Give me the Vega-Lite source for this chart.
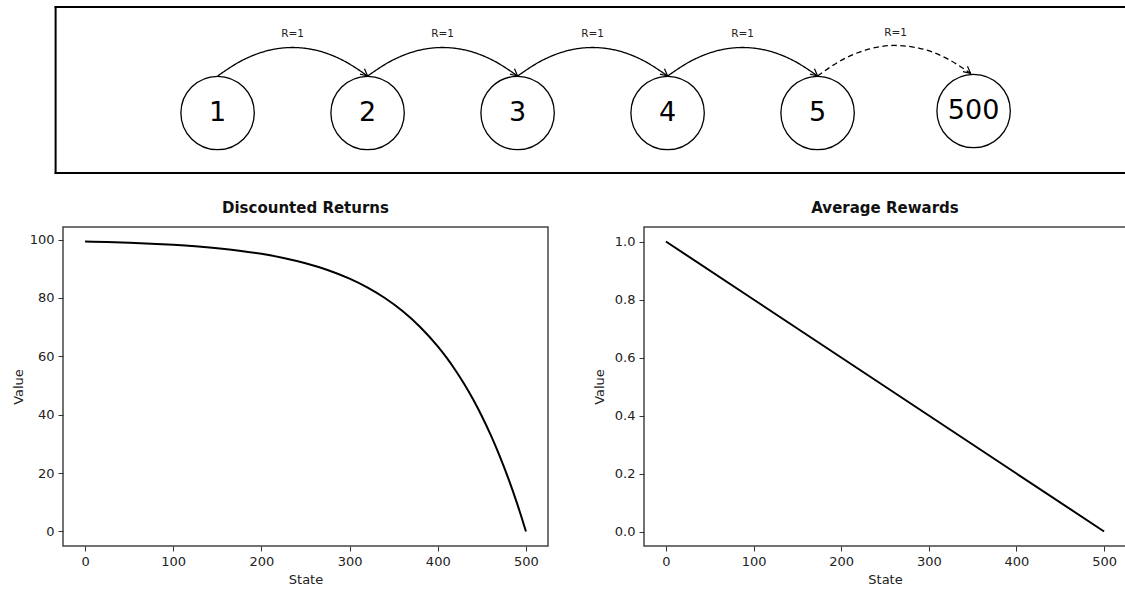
{
  "$schema": "https://vega.github.io/schema/vega-lite/v6.json",
  "padding": {"left": 11, "top": 0, "right": 0, "bottom": 0},
  "spacing": 25,
  "datasets": {
    "frame": [
      {"x": -0.08, "x2": 7.049, "y": 2.865, "y2": 2.865},
      {"x": -0.08, "x2": 7.049, "y": -1.622, "y2": -1.622},
      {"x": -0.08, "x2": -0.08, "y": -1.622, "y2": 2.865}
    ],
    "arcs": [
      {"arc": 1, "p": 0, "x": 1.0, "y": 1.0, "style": "solid"},
      {"arc": 1, "p": 1, "x": 1.167, "y": 1.428, "style": "solid"},
      {"arc": 1, "p": 2, "x": 1.333, "y": 1.685, "style": "solid"},
      {"arc": 1, "p": 3, "x": 1.5, "y": 1.77, "style": "solid"},
      {"arc": 1, "p": 4, "x": 1.667, "y": 1.685, "style": "solid"},
      {"arc": 1, "p": 5, "x": 1.833, "y": 1.428, "style": "solid"},
      {"arc": 1, "p": 6, "x": 2.0, "y": 1.0, "style": "solid"},
      {"arc": 2, "p": 0, "x": 2.0, "y": 1.0, "style": "solid"},
      {"arc": 2, "p": 1, "x": 2.167, "y": 1.428, "style": "solid"},
      {"arc": 2, "p": 2, "x": 2.333, "y": 1.685, "style": "solid"},
      {"arc": 2, "p": 3, "x": 2.5, "y": 1.77, "style": "solid"},
      {"arc": 2, "p": 4, "x": 2.667, "y": 1.685, "style": "solid"},
      {"arc": 2, "p": 5, "x": 2.833, "y": 1.428, "style": "solid"},
      {"arc": 2, "p": 6, "x": 3.0, "y": 1.0, "style": "solid"},
      {"arc": 3, "p": 0, "x": 3.0, "y": 1.0, "style": "solid"},
      {"arc": 3, "p": 1, "x": 3.167, "y": 1.428, "style": "solid"},
      {"arc": 3, "p": 2, "x": 3.333, "y": 1.685, "style": "solid"},
      {"arc": 3, "p": 3, "x": 3.5, "y": 1.77, "style": "solid"},
      {"arc": 3, "p": 4, "x": 3.667, "y": 1.685, "style": "solid"},
      {"arc": 3, "p": 5, "x": 3.833, "y": 1.428, "style": "solid"},
      {"arc": 3, "p": 6, "x": 4.0, "y": 1.0, "style": "solid"},
      {"arc": 4, "p": 0, "x": 4.0, "y": 1.0, "style": "solid"},
      {"arc": 4, "p": 1, "x": 4.167, "y": 1.428, "style": "solid"},
      {"arc": 4, "p": 2, "x": 4.333, "y": 1.685, "style": "solid"},
      {"arc": 4, "p": 3, "x": 4.5, "y": 1.77, "style": "solid"},
      {"arc": 4, "p": 4, "x": 4.667, "y": 1.685, "style": "solid"},
      {"arc": 4, "p": 5, "x": 4.833, "y": 1.428, "style": "solid"},
      {"arc": 4, "p": 6, "x": 5.0, "y": 1.0, "style": "solid"},
      {"arc": 5, "p": 0, "x": 5.0, "y": 1.0, "style": "dashed"},
      {"arc": 5, "p": 1, "x": 5.17, "y": 1.451, "style": "dashed"},
      {"arc": 5, "p": 2, "x": 5.34, "y": 1.725, "style": "dashed"},
      {"arc": 5, "p": 3, "x": 5.51, "y": 1.825, "style": "dashed"},
      {"arc": 5, "p": 4, "x": 5.68, "y": 1.749, "style": "dashed"},
      {"arc": 5, "p": 5, "x": 5.85, "y": 1.497, "style": "dashed"},
      {"arc": 5, "p": 6, "x": 6.02, "y": 1.07, "style": "dashed"}
    ],
    "nodes": [
      {"x": 1, "y": 0, "label": "1"},
      {"x": 2, "y": 0, "label": "2"},
      {"x": 3, "y": 0, "label": "3"},
      {"x": 4, "y": 0, "label": "4"},
      {"x": 5, "y": 0, "label": "5"},
      {"x": 6.04, "y": 0.054, "label": "500"}
    ],
    "rewards": [
      {"x": 1.5, "y": 2.14, "label": "R=1"},
      {"x": 2.5, "y": 2.14, "label": "R=1"},
      {"x": 3.5, "y": 2.14, "label": "R=1"},
      {"x": 4.5, "y": 2.14, "label": "R=1"},
      {"x": 5.52, "y": 2.15, "label": "R=1"}
    ],
    "discounted": [
      {"state": 0, "value": 99.34}, {"state": 25, "value": 99.15}, {"state": 50, "value": 98.91},
      {"state": 75, "value": 98.6}, {"state": 100, "value": 98.2}, {"state": 125, "value": 97.69},
      {"state": 150, "value": 97.03}, {"state": 175, "value": 96.19}, {"state": 200, "value": 95.1},
      {"state": 225, "value": 93.69}, {"state": 250, "value": 91.89}, {"state": 275, "value": 89.58},
      {"state": 300, "value": 86.6}, {"state": 320, "value": 83.62}, {"state": 340, "value": 79.97},
      {"state": 360, "value": 75.51}, {"state": 380, "value": 70.06}, {"state": 400, "value": 63.4},
      {"state": 410, "value": 59.53}, {"state": 420, "value": 55.25}, {"state": 430, "value": 50.52},
      {"state": 440, "value": 45.28}, {"state": 450, "value": 39.5}, {"state": 460, "value": 33.1},
      {"state": 470, "value": 26.03}, {"state": 480, "value": 18.21}, {"state": 490, "value": 9.56},
      {"state": 495, "value": 4.9}, {"state": 500, "value": 0}
    ],
    "average": [
      {"state": 0, "value": 1.0}, {"state": 100, "value": 0.8}, {"state": 200, "value": 0.6},
      {"state": 300, "value": 0.4}, {"state": 400, "value": 0.2}, {"state": 500, "value": 0.0}
    ]
  },
  "vconcat": [
    {
      "width": 1063,
      "height": 175,
      "view": {"stroke": null},
      "encoding": {
        "x": {"field": "x", "type": "quantitative", "scale": {"domain": [-0.0307, 7.056], "nice": false, "zero": false}, "axis": null},
        "y": {"field": "y", "type": "quantitative", "scale": {"domain": [-1.676, 3.054], "nice": false, "zero": false}, "axis": null}
      },
      "layer": [
        {
          "data": {"name": "frame"},
          "mark": {"type": "rule", "color": "black", "strokeWidth": 2, "strokeCap": "square"},
          "encoding": {"x2": {"field": "x2"}, "y2": {"field": "y2"}}
        },
        {
          "data": {"name": "arcs"},
          "mark": {"type": "line", "color": "black", "strokeWidth": 1.3, "interpolate": "monotone"},
          "encoding": {
            "detail": {"field": "arc", "type": "nominal"},
            "strokeDash": {"field": "style", "type": "nominal", "scale": {"domain": ["solid", "dashed"], "range": [[1, 0], [5.5, 3.5]]}, "legend": null}
          }
        },
        {
          "data": {"name": "arcs"},
          "transform": [{"filter": "datum.p == 6"}],
          "mark": {"type": "point", "shape": "M-1,-0.5L0,0L-1,0.5", "size": 196, "filled": false, "color": "black", "strokeWidth": 1.2, "angle": 40, "opacity": 1}
        },
        {
          "data": {"name": "nodes"},
          "mark": {"type": "point", "shape": "circle", "size": 5388, "filled": false, "color": "black", "strokeWidth": 1.3, "opacity": 1}
        },
        {
          "data": {"name": "nodes"},
          "mark": {"type": "text", "fontSize": 27, "align": "center", "baseline": "middle", "color": "black"},
          "encoding": {"text": {"field": "label", "type": "nominal"}}
        },
        {
          "data": {"name": "rewards"},
          "mark": {"type": "text", "fontSize": 10.5, "align": "center", "baseline": "middle", "color": "#222"},
          "encoding": {"text": {"field": "label", "type": "nominal"}}
        }
      ]
    },
    {
      "spacing": 43,
      "hconcat": [
        {
          "width": 485,
          "height": 319,
          "title": {"text": "Discounted Returns"},
          "data": {"name": "discounted"},
          "mark": {"type": "line", "color": "black", "strokeWidth": 2, "interpolate": "monotone"},
          "encoding": {
            "x": {"field": "state", "type": "quantitative", "scale": {"domain": [-25, 525], "nice": false, "zero": false}, "axis": {"title": "State", "values": [0, 100, 200, 300, 400, 500]}},
            "y": {"field": "value", "type": "quantitative", "scale": {"domain": [-4.967, 104.3], "nice": false, "zero": false}, "axis": {"title": "Value", "values": [0, 20, 40, 60, 80, 100], "titleX": -38}}
          }
        },
        {
          "width": 482,
          "height": 319,
          "title": {"text": "Average Rewards"},
          "data": {"name": "average"},
          "mark": {"type": "line", "color": "black", "strokeWidth": 2},
          "encoding": {
            "x": {"field": "state", "type": "quantitative", "scale": {"domain": [-25, 525], "nice": false, "zero": false}, "axis": {"title": "State", "values": [0, 100, 200, 300, 400, 500]}},
            "y": {"field": "value", "type": "quantitative", "scale": {"domain": [-0.05, 1.05], "nice": false, "zero": false}, "axis": {"title": "Value", "values": [0, 0.2, 0.4, 0.6, 0.8, 1.0], "format": ".1f", "titleX": -38}}
          }
        }
      ]
    }
  ],
  "config": {
    "font": "DejaVu Sans",
    "view": {"stroke": "#444", "strokeWidth": 1.5},
    "axis": {
      "domain": false, "grid": false, "tickSize": 5, "tickColor": "#333",
      "labelFontSize": 13, "titleFontSize": 13, "titleFontWeight": "normal",
      "labelColor": "#222", "titleColor": "#222", "labelPadding": 4, "titlePadding": 5
    },
    "title": {"fontSize": 15, "fontWeight": "bold", "offset": 11, "baseline": "alphabetic", "color": "#111"}
  }
}
